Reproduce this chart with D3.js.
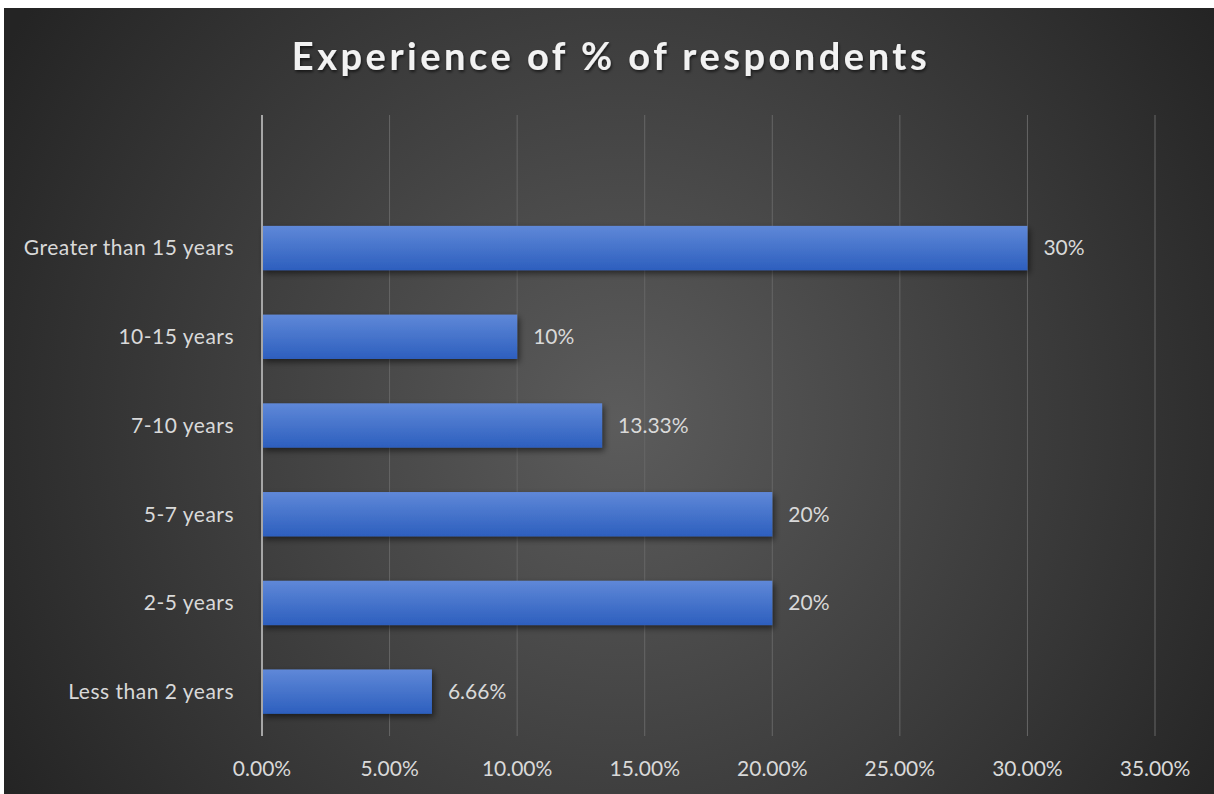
<!DOCTYPE html>
<html>
<head>
<meta charset="utf-8">
<script src="https://cdn.jsdelivr.net/npm/d3@7"></script>
<style>
  body { margin: 0; background: #fff; }
  svg { display: block; }
</style>
</head>
<body>
<div id="chart"></div>
<script>
// chart data
const categories = ["Less than 2 years", "2-5 years", "5-7 years", "7-10 years", "10-15 years", "Greater than 15 years"];
const values = [6.66, 20, 20, 13.33, 10, 30];
const valueLabels = ["6.66%", "20%", "20%", "13.33%", "10%", "30%"];
const xTicks = [0, 5, 10, 15, 20, 25, 30, 35];

const W = 1214, H = 794;
const font = "Lato, 'Open Sans', sans-serif";

const svg = d3.select("#chart").append("svg")
    .attr("width", W)
    .attr("height", H);

const defs = svg.append("defs");

const bg = defs.append("radialGradient")
    .attr("id", "bg")
    .attr("gradientUnits", "userSpaceOnUse")
    .attr("cx", 620).attr("cy", 420).attr("r", 720);
bg.append("stop").attr("offset", "0%").attr("stop-color", "#5c5c5c");
bg.append("stop").attr("offset", "100%").attr("stop-color", "#242424");

const barGrad = defs.append("linearGradient")
    .attr("id", "bar")
    .attr("x1", 0).attr("y1", 0).attr("x2", 0).attr("y2", 1);
barGrad.append("stop").attr("offset", "0%").attr("stop-color", "#5f88d8");
barGrad.append("stop").attr("offset", "100%").attr("stop-color", "#2d5fbe");

const shadow = defs.append("filter").attr("id", "shadow")
    .attr("x", "-10%").attr("y", "-30%").attr("width", "130%").attr("height", "180%");
shadow.append("feDropShadow")
    .attr("dx", 2).attr("dy", 3).attr("stdDeviation", 3)
    .attr("flood-color", "#000").attr("flood-opacity", 0.55);

const titleShadow = defs.append("filter").attr("id", "tshadow");
titleShadow.append("feDropShadow")
    .attr("dx", 1).attr("dy", 2).attr("stdDeviation", 1.5)
    .attr("flood-color", "#000").attr("flood-opacity", 0.6);

// background panel (white strip on top and left like the source image)
svg.append("rect")
    .attr("x", 4).attr("y", 8)
    .attr("width", W - 4).attr("height", H - 8)
    .attr("fill", "url(#bg)");

// plot area
const plotLeft = 262, plotRight = 1155, plotTop = 115, plotBottom = 736;

const x = d3.scaleLinear()
    .domain([0, 35])
    .range([plotLeft, plotRight]);

// Excel leaves one empty slot above the bars
const slot = (plotBottom - plotTop) / (categories.length + 1);
const y = d3.scaleBand()
    .domain(categories)
    .range([plotBottom, plotTop + slot])
    .paddingInner(0.5)
    .paddingOuter(0.25);

// gridlines
svg.append("g")
    .selectAll("line")
    .data(xTicks.slice(1))
    .enter().append("line")
    .attr("x1", d => x(d)).attr("x2", d => x(d))
    .attr("y1", plotTop).attr("y2", plotBottom)
    .attr("stroke", "#666")
    .attr("stroke-width", 1);

// x axis labels
svg.append("g")
    .selectAll("text")
    .data(xTicks)
    .enter().append("text")
    .attr("x", d => x(d))
    .attr("y", 776)
    .attr("text-anchor", "middle")
    .style("font-family", font)
    .style("font-size", "21px")
    .attr("fill", "#d9d9d9")
    .text(d => d3.format(".2f")(d) + "%");

// bars
svg.append("g")
    .selectAll("rect")
    .data(categories)
    .enter().append("rect")
    .attr("x", x(0))
    .attr("y", d => y(d))
    .attr("width", (d, i) => x(values[i]) - x(0))
    .attr("height", y.bandwidth())
    .attr("fill", "url(#bar)")
    .attr("filter", "url(#shadow)");

// value labels
svg.append("g")
    .selectAll("text")
    .data(categories)
    .enter().append("text")
    .attr("x", (d, i) => x(values[i]) + 16)
    .attr("y", d => y(d) + y.bandwidth() / 2)
    .attr("dy", "0.35em")
    .style("font-family", font)
    .style("font-size", "21px")
    .attr("fill", "#d9d9d9")
    .text((d, i) => valueLabels[i]);

// category labels
svg.append("g")
    .selectAll("text")
    .data(categories)
    .enter().append("text")
    .attr("x", 234)
    .attr("y", d => y(d) + y.bandwidth() / 2)
    .attr("dy", "0.35em")
    .attr("text-anchor", "end")
    .style("font-family", font)
    .style("font-size", "21px")
    .style("letter-spacing", "0.5px")
    .attr("fill", "#d9d9d9")
    .text(d => d);

// vertical axis line
svg.append("line")
    .attr("x1", plotLeft).attr("x2", plotLeft)
    .attr("y1", plotTop).attr("y2", plotBottom)
    .attr("stroke", "#a6a6a6")
    .attr("stroke-width", 2);

// title
svg.append("text")
    .attr("x", 611)
    .attr("y", 70)
    .attr("text-anchor", "middle")
    .style("font-family", font)
    .style("font-size", "38px")
    .style("font-weight", "bold")
    .style("letter-spacing", "3.5px")
    .attr("fill", "#f2f2f2")
    .attr("filter", "url(#tshadow)")
    .text("Experience of % of respondents");
</script>
</body>
</html>
